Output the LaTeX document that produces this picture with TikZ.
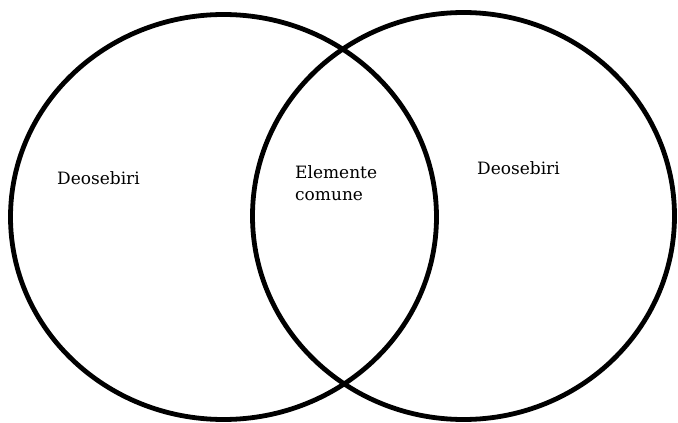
\documentclass[tikz,border=0pt]{standalone}
\usepackage{fontspec}
\setmainfont{DejaVu Serif}
\begin{document}
\begin{tikzpicture}[x=1pt,y=-1pt,
  setring/.style={draw=black,line width=4.8pt},
  lbl/.style={inner sep=0pt,font=\fontsize{17}{22}\selectfont,align=left}]
\useasboundingbox (0,0) rectangle (678,423);
\draw[setring] (223.5,217) ellipse [x radius=213, y radius=202.5];
\draw[setring] (463.5,216) ellipse [x radius=211, y radius=203.5];
\node[lbl,anchor=base west] (l) at (57,184) {Deosebiri};
\node[lbl,anchor=base west] (r) at (477,174) {Deosebiri};
\node[lbl,anchor=north west] (c) at (295,165) {Elemente\\comune};
\end{tikzpicture}
\end{document}
